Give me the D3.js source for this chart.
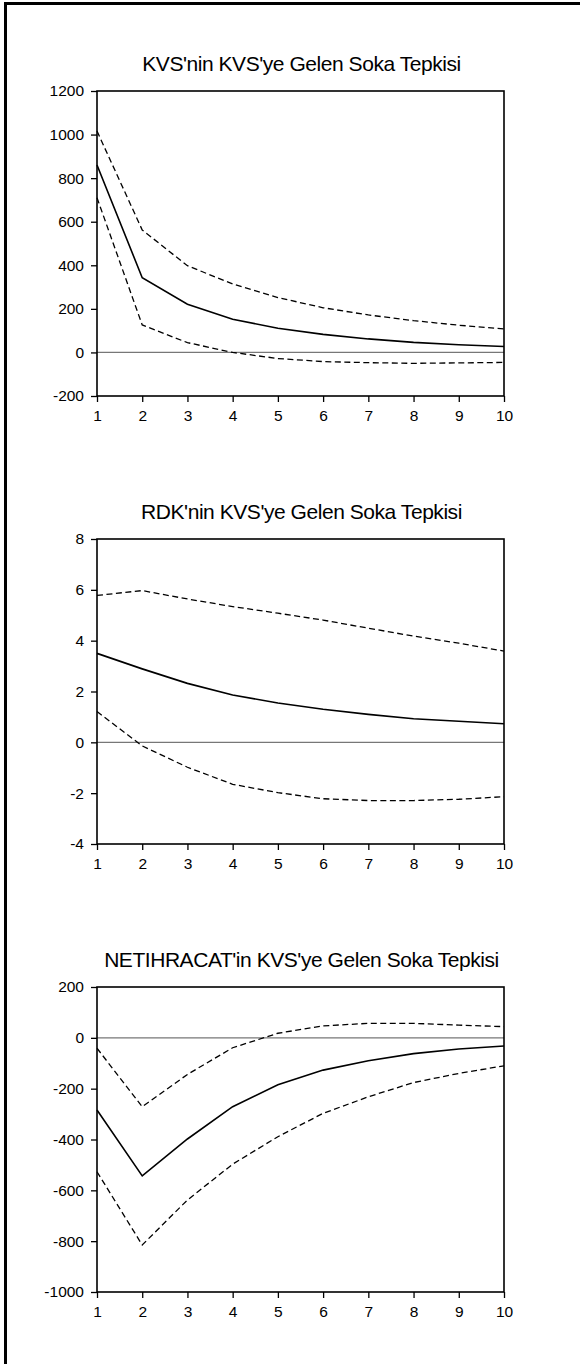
<!DOCTYPE html>
<html>
<head>
<meta charset="utf-8">
<script src="https://cdn.jsdelivr.net/npm/d3@7"></script>
<style>
  html, body { margin: 0; padding: 0; background: #fff; }
  svg { display: block; }
</style>
</head>
<body>
<svg id="chart" width="580" height="1364"></svg>
<script>
// ---- Data ----
const periods = [1, 2, 3, 4, 5, 6, 7, 8, 9, 10];
const xTickLabels = ["1", "2", "3", "4", "5", "6", "7", "8", "9", "10"];

const titles = [
  "KVS'nin KVS'ye Gelen Soka Tepkisi",
  "RDK'nin KVS'ye Gelen Soka Tepkisi",
  "NETIHRACAT'in KVS'ye Gelen Soka Tepkisi"
];

// Panel 1: KVS -> KVS
const kvsResponse = [860, 343, 221, 152, 111, 83, 62, 46, 35, 27];
const kvsUpper    = [1016, 562, 398, 314, 252, 205, 172, 146, 125, 108];
const kvsLower    = [710, 126, 45, 0, -28, -42, -47, -50, -48, -46];
const kvsTicks    = [-200, 0, 200, 400, 600, 800, 1000, 1200];

// Panel 2: RDK -> KVS
const rdkResponse = [3.50, 2.89, 2.32, 1.86, 1.55, 1.30, 1.10, 0.93, 0.83, 0.73];
const rdkUpper    = [5.78, 5.97, 5.64, 5.34, 5.08, 4.81, 4.49, 4.18, 3.90, 3.59];
const rdkLower    = [1.21, -0.14, -0.98, -1.65, -1.98, -2.22, -2.29, -2.29, -2.24, -2.14];
const rdkTicks    = [-4, -2, 0, 2, 4, 6, 8];

// Panel 3: NETIHRACAT -> KVS
const netResponse = [-284, -543, -398, -271, -185, -127, -90, -62, -44, -32];
const netUpper    = [-41, -271, -144, -39, 18, 47, 57, 57, 50, 44];
const netLower    = [-527, -815, -638, -497, -389, -297, -232, -176, -140, -110];
const netTicks    = [-1000, -800, -600, -400, -200, 0, 200];

const panels = [
  { title: titles[0], resp: kvsResponse, up: kvsUpper, lo: kvsLower, ticks: kvsTicks },
  { title: titles[1], resp: rdkResponse, up: rdkUpper, lo: rdkLower, ticks: rdkTicks },
  { title: titles[2], resp: netResponse, up: netUpper, lo: netLower, ticks: netTicks }
];

// ---- Layout ----
const svg = d3.select("#chart");
const left = 97, right = 504, plotH = 305;
const tops = [91, 539, 987];
const FONT = "'Liberation Sans', Arial, sans-serif";

// page frame (left and top borders)
svg.append("line").attr("x1", 5.5).attr("x2", 5.5).attr("y1", 2).attr("y2", 1364)
  .attr("stroke", "#000").attr("stroke-width", 3);
svg.append("line").attr("x1", 4).attr("x2", 580).attr("y1", 3.5).attr("y2", 3.5)
  .attr("stroke", "#000").attr("stroke-width", 3);

const x = d3.scaleLinear().domain([1, 10]).range([left, right]);

panels.forEach((p, i) => {
  const top = tops[i], bottom = top + plotH;
  const y = d3.scaleLinear()
    .domain([p.ticks[0], p.ticks[p.ticks.length - 1]])
    .range([bottom, top]);
  const g = svg.append("g");

  // title
  g.append("text")
    .attr("x", (left + right) / 2 + 1)
    .attr("y", top - 20.5)
    .attr("text-anchor", "middle")
    .attr("font-family", FONT)
    .attr("font-size", 21)
    .attr("letter-spacing", -0.45)
    .attr("fill", "#000")
    .text(p.title);

  // zero line
  g.append("line")
    .attr("x1", left).attr("x2", right)
    .attr("y1", y(0)).attr("y2", y(0))
    .attr("stroke", "#777").attr("stroke-width", 1.2);

  const line = d3.line().x((d, j) => x(periods[j])).y(d => y(d));

  [p.up, p.lo].forEach(arr => {
    g.append("path").datum(arr).attr("d", line)
      .attr("fill", "none").attr("stroke", "#000")
      .attr("stroke-width", 1.3).attr("stroke-dasharray", "6,3.5");
  });
  g.append("path").datum(p.resp).attr("d", line)
    .attr("fill", "none").attr("stroke", "#000").attr("stroke-width", 1.6);

  // axes
  const yAxis = d3.axisLeft(y).tickValues(p.ticks).tickSize(6).tickPadding(7)
    .tickFormat(d3.format("d"));
  const ya = g.append("g").attr("transform", `translate(${left},0)`).call(yAxis);

  const xAxis = d3.axisBottom(x).tickValues(periods).tickSize(6).tickPadding(8)
    .tickFormat((d, j) => xTickLabels[j]);
  const xa = g.append("g").attr("transform", `translate(0,${bottom})`).call(xAxis);

  [ya, xa].forEach(a => {
    a.select(".domain").remove();
    a.selectAll(".tick line").attr("stroke", "#000").attr("stroke-width", 1.3);
    a.selectAll(".tick text").attr("font-family", FONT).attr("font-size", 15.5)
      .attr("fill", "#000");
  });
  ya.selectAll(".tick text").text(d => d < 0 ? "-" + Math.abs(d) : String(d));

  // frame box
  g.append("rect")
    .attr("x", left).attr("y", top)
    .attr("width", right - left).attr("height", plotH)
    .attr("fill", "none").attr("stroke", "#000").attr("stroke-width", 1.6);
});
</script>
</body>
</html>
